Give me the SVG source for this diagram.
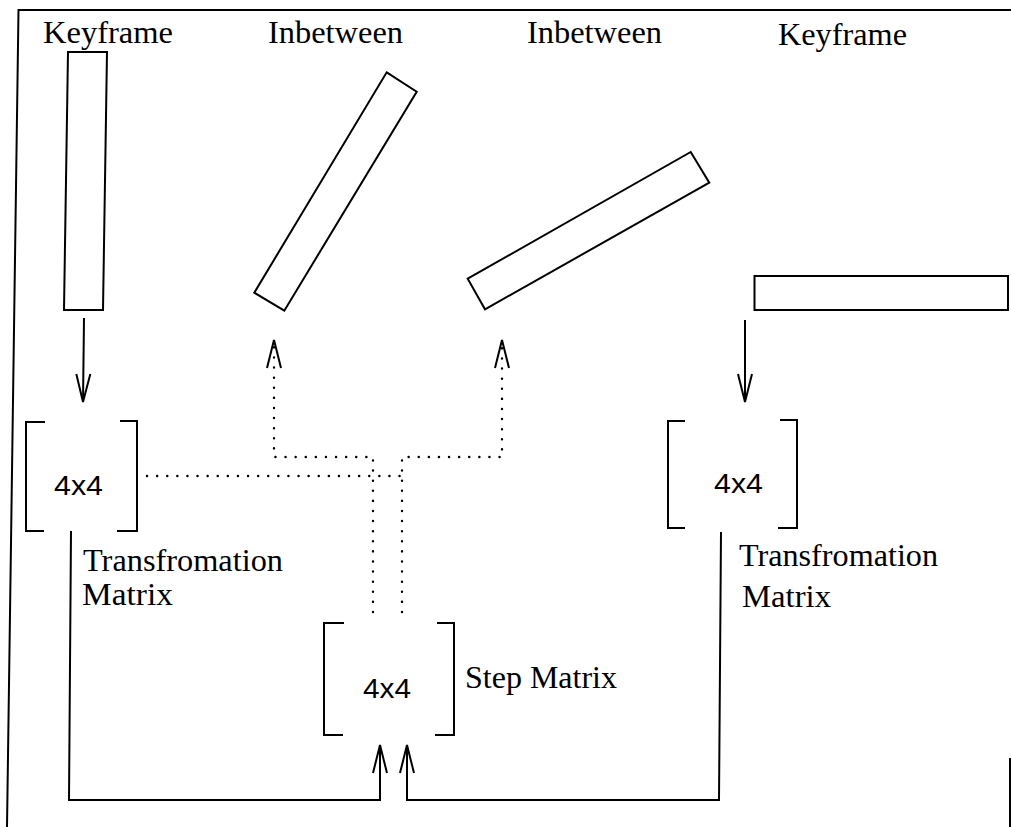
<svg xmlns="http://www.w3.org/2000/svg" width="1011" height="827" viewBox="0 0 1011 827">
<style>
.s{fill:none;stroke:#000;stroke-width:2}
.d{fill:none;stroke:#000;stroke-width:2.4;stroke-dasharray:0.1 10;stroke-linecap:round}
.t{font-family:"Liberation Serif",serif;font-size:31px;fill:#000}
.m{font-family:"Liberation Sans",sans-serif;font-size:27px;fill:#000}
</style>
<defs>
<marker id="ah" markerUnits="userSpaceOnUse" orient="auto" refX="0" refY="0" markerWidth="40" markerHeight="40" overflow="visible">
<path d="M-28,-7 L0,0 L-28,7" fill="none" stroke="#000" stroke-width="2" stroke-dasharray="none"/>
</marker>
</defs>
<rect width="1011" height="827" fill="#fff"/>
<g id="frame" class="s">
<path d="M1011,10 L18.5,10 L7,827"/>
<path d="M1010,758 L1010,827"/>
</g>
<g id="keyframe1">
<text class="t" x="43" y="43" textLength="130" lengthAdjust="spacingAndGlyphs">Keyframe</text>
<polygon class="s" points="68,52 107,52 103,310 64,310"/>
</g>
<g id="inbetween1">
<text class="t" x="268" y="43" textLength="135" lengthAdjust="spacingAndGlyphs">Inbetween</text>
<polygon class="s" points="386.7,72.3 416.7,91.7 284.3,310.7 254.3,292.7"/>
</g>
<g id="inbetween2">
<text class="t" x="527" y="43" textLength="135" lengthAdjust="spacingAndGlyphs">Inbetween</text>
<polygon class="s" points="690.7,152 709.3,182.7 485,309.3 467.7,278.7"/>
</g>
<g id="keyframe2">
<text class="t" x="778" y="45" textLength="129" lengthAdjust="spacingAndGlyphs">Keyframe</text>
<rect class="s" x="754.5" y="276" width="253.5" height="34"/>
</g>
<g id="matrix1">
<path class="s" d="M45,422 L26,422 L26,531 L44,531 M120,421 L137,421 L137,531 L117,531"/>
<text class="m" x="54" y="495" textLength="49" lengthAdjust="spacingAndGlyphs">4x4</text>
<text class="t" x="83" y="571" textLength="200" lengthAdjust="spacingAndGlyphs">Transfromation</text>
<text class="t" x="82" y="605" textLength="91" lengthAdjust="spacingAndGlyphs">Matrix</text>
</g>
<g id="matrix2">
<path class="s" d="M685,421 L668,421 L668,528 L685,528 M780,420 L797,420 L797,528 L778,528"/>
<text class="m" x="714" y="493" textLength="49" lengthAdjust="spacingAndGlyphs">4x4</text>
<text class="t" x="739" y="566" textLength="199" lengthAdjust="spacingAndGlyphs">Transfromation</text>
<text class="t" x="742" y="607" textLength="89" lengthAdjust="spacingAndGlyphs">Matrix</text>
</g>
<g id="stepmatrix">
<path class="s" d="M344,623 L324,623 L324,735 L343,735 M437,623 L454,623 L454,735 L435,735"/>
<text class="m" x="363" y="698" textLength="48" lengthAdjust="spacingAndGlyphs">4x4</text>
<text class="t" x="465" y="688" textLength="152" lengthAdjust="spacingAndGlyphs">Step Matrix</text>
</g>
<g id="connectors">
<path class="s" d="M84,318 L83,402" marker-end="url(#ah)"/>
<path class="s" d="M745,320 L745,402" marker-end="url(#ah)"/>
<path class="s" d="M71,531 L69,800 L380,800 L380,745" marker-end="url(#ah)"/>
<path class="s" d="M721,532 L719,800 L407,800 L407,745" marker-end="url(#ah)"/>
<path class="d" d="M373,612 L373,457 L274,457 L274,340" marker-end="url(#ah)"/>
<path class="d" d="M402,612 L402,457 L502,457 L502,340" marker-end="url(#ah)"/>
<path class="d" d="M147,476 L402,476"/>
</g>
</svg>
